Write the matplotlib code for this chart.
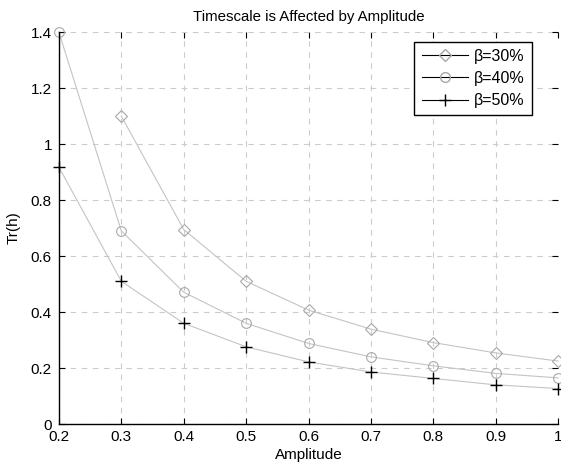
import matplotlib
matplotlib.use("Agg")
import matplotlib.pyplot as plt
from matplotlib.lines import Line2D

plt.rcParams['font.family'] = ['Liberation Sans', 'DejaVu Sans']

# data
amp_30 = [0.3, 0.4, 0.5, 0.6, 0.7, 0.8, 0.9, 1.0]
tr_30 = [1.10, 0.695, 0.51, 0.407, 0.339, 0.291, 0.254, 0.225]
amp_40 = [0.2, 0.3, 0.4, 0.5, 0.6, 0.7, 0.8, 0.9, 1.0]
tr_40 = [1.40, 0.69, 0.471, 0.36, 0.288, 0.24, 0.208, 0.181, 0.165]
amp_50 = [0.2, 0.3, 0.4, 0.5, 0.6, 0.7, 0.8, 0.9, 1.0]
tr_50 = [0.918, 0.51, 0.36, 0.276, 0.222, 0.186, 0.163, 0.14, 0.127]
labels = ['\u03b2=30%', '\u03b2=40%', '\u03b2=50%']
xticks = [0.2, 0.3, 0.4, 0.5, 0.6, 0.7, 0.8, 0.9, 1.0]
yticks = [0, 0.2, 0.4, 0.6, 0.8, 1.0, 1.2, 1.4]

line_c = '#c4c4c4'
mark_c = '#a8a8a8'

fig = plt.figure(figsize=(5.61, 4.66), dpi=100)
ax = fig.add_axes([0.105, 0.090, 0.890, 0.841])

ax.plot(amp_30, tr_30, color=line_c, lw=0.8, marker='D', ms=6,
        mfc='none', mec=mark_c, mew=0.8, clip_on=False)
ax.plot(amp_40, tr_40, color=line_c, lw=0.8, marker='o', ms=7,
        mfc='none', mec=mark_c, mew=0.8, clip_on=False)
ax.plot(amp_50, tr_50, color=line_c, lw=0.8, marker='+', ms=9,
        mec='black', mew=1.0, clip_on=False)

ax.set_xlim(0.2, 1.0)
ax.set_ylim(0, 1.4)
ax.set_xticks(xticks)
ax.set_xticklabels(['0.2', '0.3', '0.4', '0.5', '0.6', '0.7', '0.8', '0.9', '1'])
ax.set_yticks(yticks)
ax.set_yticklabels(['0', '0.2', '0.4', '0.6', '0.8', '1', '1.2', '1.4'])
ax.grid(True, color='#cccccc', linestyle=(0, (5, 5)), lw=0.8)
ax.tick_params(direction='in', top=True, right=True, length=4, width=0.8,
               labelsize=11, colors='black')
ax.tick_params(axis='x', pad=4.5)
ax.tick_params(axis='y', pad=5)
ax.spines['top'].set_visible(False)
ax.spines['right'].set_visible(False)
for s in ('left', 'bottom'):
    ax.spines[s].set_linewidth(1.0)

ax.set_title('Timescale is Affected by Amplitude', fontsize=10.8, pad=8)
ax.set_xlabel('Amplitude', fontsize=11, labelpad=3)
ax.set_ylabel('Tr(h)', fontsize=11, labelpad=7)

handles = [
    Line2D([], [], color='black', lw=0.8, marker='D', ms=6, mfc='none', mec=mark_c),
    Line2D([], [], color='black', lw=0.8, marker='o', ms=7, mfc='none', mec=mark_c),
    Line2D([], [], color='black', lw=0.8, marker='+', ms=9, mec='black'),
]
leg = ax.legend(handles, labels, loc='upper right', bbox_to_anchor=(0.948, 0.976),
                fontsize=11.5, frameon=True, fancybox=False, framealpha=1,
                edgecolor='black', handlelength=2.9, borderpad=0.45,
                labelspacing=0.45, handletextpad=0.4, borderaxespad=0)
leg.get_frame().set_linewidth(1.0)

fig.savefig('out.png', dpi=100, facecolor='white')
